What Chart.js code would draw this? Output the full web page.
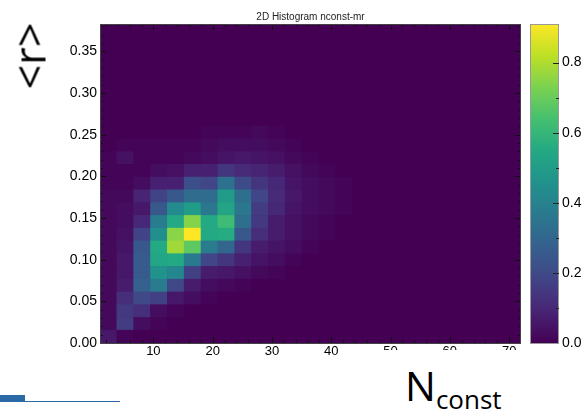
<!DOCTYPE html>
<html>
<head>
<meta charset="utf-8">
<script src="https://cdn.jsdelivr.net/npm/chart.js@4.4.1/dist/chart.umd.min.js"></script>
<style>
  body { margin: 0; background: #fff; }
  #wrap { position: relative; width: 583px; height: 413px; overflow: hidden; background: #fff; }
  #c { position: absolute; left: 0; top: 0; }
  .ylab { position: absolute; left: 29px; top: 56px; transform: translate(-50%, -50%) rotate(-90deg);
          font-family: 'Open Sans', sans-serif; font-size: 43px; line-height: 1; color: #000; white-space: nowrap; }
  .xbox { position: absolute; left: 345px; top: 350px; width: 238px; height: 63px; background: #fff; }
  .xlab { position: absolute; left: 405px; top: 365px; font-family: 'Open Sans', sans-serif; color: #000; white-space: nowrap; line-height: 1; }
  .xlab .big { font-size: 41px; }
  .xlab sub { font-size: 26px; vertical-align: -8px; }
  .bar1 { position: absolute; left: 0; top: 395px; width: 25px; height: 7px; background: #2b6aa6; }
  .bar2 { position: absolute; left: 25px; top: 401px; width: 95px; height: 1px; background: #2b6aa6; }
</style>
</head>
<body>
<div id="wrap">
  <canvas id="c" width="583" height="413"></canvas>
  <div class="ylab">&lt;r&gt;</div>
  <div class="xbox"></div>
  <div class="xlab"><span class="big">N</span><sub>const</sub></div>
  <div class="bar1"></div>
  <div class="bar2"></div>
</div>
<script>
// Histogram binning
const xRange = [1, 72];
const yRange = [0, 0.383];
const nBinsX = 25;
const nBinsY = 25;
const zMax = 0.91;

// Bin contents, one row per y bin (bottom to top), first 15 x bins; the rest are empty
const zRows = [
  [0.06, 0.01, 0.00, 0.00, 0.00, 0.00, 0.00, 0.00, 0.00, 0.00, 0.00, 0.00, 0.00, 0.00, 0.00],
  [0.02, 0.16, 0.03, 0.01, 0.00, 0.00, 0.00, 0.00, 0.00, 0.00, 0.00, 0.00, 0.00, 0.00, 0.00],
  [0.02, 0.15, 0.12, 0.03, 0.01, 0.00, 0.00, 0.00, 0.00, 0.00, 0.00, 0.00, 0.00, 0.00, 0.00],
  [0.02, 0.12, 0.20, 0.17, 0.06, 0.03, 0.01, 0.00, 0.00, 0.00, 0.00, 0.00, 0.00, 0.00, 0.00],
  [0.02, 0.07, 0.28, 0.38, 0.20, 0.07, 0.03, 0.02, 0.01, 0.00, 0.00, 0.00, 0.00, 0.00, 0.00],
  [0.02, 0.06, 0.26, 0.46, 0.42, 0.17, 0.07, 0.06, 0.04, 0.02, 0.01, 0.00, 0.00, 0.00, 0.00],
  [0.02, 0.06, 0.26, 0.54, 0.55, 0.37, 0.19, 0.14, 0.08, 0.05, 0.03, 0.01, 0.00, 0.00, 0.00],
  [0.02, 0.05, 0.25, 0.55, 0.78, 0.68, 0.38, 0.30, 0.14, 0.07, 0.05, 0.03, 0.01, 0.00, 0.00],
  [0.02, 0.04, 0.18, 0.45, 0.75, 0.91, 0.55, 0.56, 0.25, 0.12, 0.07, 0.04, 0.02, 0.01, 0.00],
  [0.02, 0.03, 0.10, 0.38, 0.55, 0.74, 0.55, 0.62, 0.33, 0.15, 0.07, 0.04, 0.02, 0.01, 0.00],
  [0.02, 0.03, 0.06, 0.25, 0.43, 0.50, 0.36, 0.53, 0.36, 0.16, 0.10, 0.05, 0.03, 0.02, 0.01],
  [0.02, 0.02, 0.09, 0.18, 0.25, 0.32, 0.32, 0.50, 0.33, 0.19, 0.11, 0.06, 0.03, 0.02, 0.01],
  [0.01, 0.01, 0.03, 0.08, 0.08, 0.22, 0.19, 0.34, 0.21, 0.14, 0.10, 0.05, 0.03, 0.02, 0.01],
  [0.01, 0.01, 0.01, 0.03, 0.04, 0.08, 0.08, 0.14, 0.11, 0.09, 0.07, 0.04, 0.02, 0.01, 0.00],
  [0.01, 0.04, 0.01, 0.01, 0.01, 0.02, 0.03, 0.05, 0.06, 0.05, 0.04, 0.02, 0.01, 0.00, 0.00],
  [0.00, 0.01, 0.01, 0.01, 0.01, 0.01, 0.02, 0.03, 0.03, 0.03, 0.02, 0.01, 0.00, 0.00, 0.00],
  [0.00, 0.00, 0.00, 0.00, 0.00, 0.00, 0.01, 0.01, 0.01, 0.02, 0.01, 0.00, 0.00, 0.00, 0.00]
];

// Tick labels
const xTickValues = [10, 20, 30, 40, 50, 60, 70];
const yTickValues = [0, 0.05, 0.10, 0.15, 0.20, 0.25, 0.30, 0.35];
const zTickValues = [0, 0.2, 0.4, 0.6, 0.8];

// viridis palette
const viridisStops = ['#440154', '#482475', '#414487', '#355f8d', '#2a788e', '#21918c',
                      '#22a884', '#44bf70', '#7ad151', '#bddf26', '#fde725'];

function hexToRgb(h) {
  return [parseInt(h.slice(1, 3), 16), parseInt(h.slice(3, 5), 16), parseInt(h.slice(5, 7), 16)];
}
function viridis(t) {
  t = Math.max(0, Math.min(1, t));
  const n = viridisStops.length - 1;
  const k = Math.min(n - 1, Math.floor(t * n));
  const f = t * n - k;
  const a = hexToRgb(viridisStops[k]), b = hexToRgb(viridisStops[k + 1]);
  const c = a.map((v, i) => Math.round(v + (b[i] - v) * f));
  return `rgb(${c[0]},${c[1]},${c[2]})`;
}

const binW = (xRange[1] - xRange[0]) / nBinsX;
const binH = (yRange[1] - yRange[0]) / nBinsY;

// one stacked dataset per y bin
const datasets = [];
for (let j = 0; j < nBinsY; j++) {
  const row = zRows[j] || [];
  const data = [], colors = [];
  for (let i = 0; i < nBinsX; i++) {
    data.push({ x: xRange[0] + binW * (i + 0.5), y: binH });
    colors.push(viridis((row[i] || 0) / zMax));
  }
  datasets.push({
    data: data,
    backgroundColor: colors,
    borderWidth: 0,
    barPercentage: 1,
    categoryPercentage: 1
  });
}

function drawTick(ctx, x1, y1, x2, y2) {
  ctx.beginPath();
  ctx.moveTo(x1, y1);
  ctx.lineTo(x2, y2);
  ctx.stroke();
}

// frame, ROOT-style ticks inside the pad, and the colour palette
const padDecor = {
  id: 'padDecor',
  beforeDatasetsDraw(chart) {
    const { ctx, chartArea: a } = chart;
    ctx.save();
    ctx.fillStyle = viridis(0);
    ctx.fillRect(a.left, a.top, a.right - a.left, a.bottom - a.top);
    ctx.restore();
  },
  afterDraw(chart) {
    const { ctx, chartArea: a, scales } = chart;
    const x = scales.x, y = scales.y, cb = scales.cb;
    ctx.save();
    ctx.strokeStyle = '#111';
    ctx.lineWidth = 1;

    for (let v = 2; v < xRange[1]; v += 2) {
      const px = Math.round(x.getPixelForValue(v)) + 0.5;
      const len = v % 10 === 0 ? 6 : 3;
      drawTick(ctx, px, a.bottom, px, a.bottom - len);
      drawTick(ctx, px, a.top, px, a.top + len);
    }
    for (let k = 1; k * 0.01 < yRange[1]; k++) {
      const py = Math.round(y.getPixelForValue(k * 0.01)) + 0.5;
      const len = k % 5 === 0 ? 6 : 3;
      drawTick(ctx, a.left, py, a.left + len, py);
      drawTick(ctx, a.right, py, a.right - len, py);
    }
    ctx.strokeStyle = '#444';
    ctx.strokeRect(a.left + 0.5, a.top + 0.5, a.right - a.left - 1, a.bottom - a.top);

    // palette
    const bx = cb.left + 9, bw = 29;
    const g = ctx.createLinearGradient(0, cb.bottom, 0, cb.top);
    for (let s = 0; s <= 20; s++) g.addColorStop(s / 20, viridis(s / 20));
    ctx.fillStyle = g;
    ctx.fillRect(bx, cb.top, bw, cb.bottom - cb.top);
    ctx.strokeStyle = '#999';
    ctx.strokeRect(bx + 0.5, cb.top + 0.5, bw - 1, cb.bottom - cb.top);
    ctx.strokeStyle = '#222';
    for (let k = 1; k <= 8; k++) {
      const py = Math.round(cb.getPixelForValue(k / 10)) + 0.5;
      const len = k % 2 === 0 ? 6 : 3;
      drawTick(ctx, bx + bw, py, bx + bw - len, py);
    }
    ctx.restore();
  }
};

const tickFont = { family: "'Liberation Sans', Arial, sans-serif", size: 13 };

// fixed axis sizes; no extra padding requested by the labels
function fixSize(prop, size) {
  return (s) => {
    s[prop] = size;
    s.paddingTop = 0; s.paddingBottom = 0; s.paddingLeft = 0; s.paddingRight = 0;
  };
}

new Chart(document.getElementById('c'), {
  type: 'bar',
  data: { datasets: datasets },
  options: {
    responsive: false,
    devicePixelRatio: 1,
    animation: false,
    layout: { padding: { left: 38, top: 1, right: 0, bottom: 0 } },
    plugins: {
      legend: { display: false },
      tooltip: { enabled: false },
      title: {
        display: true,
        text: '2D Histogram nconst-mr',
        color: '#222',
        font: { family: "'Liberation Sans', Arial, sans-serif", size: 10, weight: 'normal' },
        padding: { top: 10, bottom: 1 }
      }
    },
    scales: {
      x: {
        type: 'linear',
        stacked: true,
        offset: false,
        min: xRange[0],
        max: xRange[1],
        grid: { display: false, drawTicks: false },
        border: { display: false },
        afterBuildTicks: (s) => { s.ticks = xTickValues.map(v => ({ value: v })); },
        afterFit: fixSize('height', 70),
        ticks: { color: '#000', font: tickFont, padding: 1, maxRotation: 0, callback: (v) => String(v) }
      },
      y: {
        type: 'linear',
        stacked: true,
        min: yRange[0],
        max: yRange[1],
        grid: { display: false, drawTicks: false },
        border: { display: false },
        afterBuildTicks: (s) => { s.ticks = yTickValues.map(v => ({ value: v })); },
        afterFit: fixSize('width', 62),
        ticks: { color: '#000', font: { family: tickFont.family, size: 14 }, padding: 3, callback: (v) => Number(v).toFixed(2) }
      },
      cb: {
        type: 'linear',
        position: 'right',
        min: 0,
        max: zMax,
        grid: { display: false, drawTicks: false },
        border: { display: false },
        afterBuildTicks: (s) => { s.ticks = zTickValues.map(v => ({ value: v })); },
        afterFit: fixSize('width', 62),
        ticks: { color: '#000', font: { family: tickFont.family, size: 14 }, padding: 41, callback: (v) => Number(v).toFixed(1) }
      }
    }
  },
  plugins: [padDecor]
});
</script>
</body>
</html>
